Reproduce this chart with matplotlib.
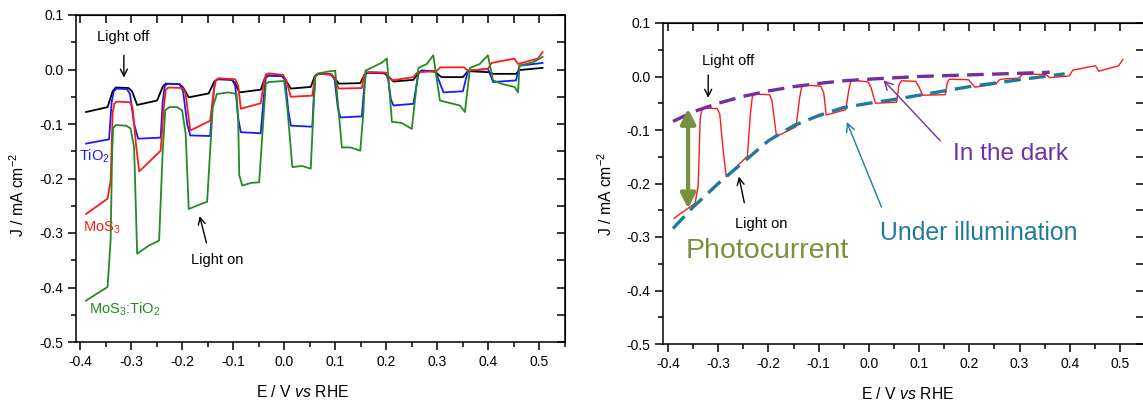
import numpy as np
import matplotlib
matplotlib.use("Agg")
import matplotlib.pyplot as plt
from matplotlib.ticker import FormatStrFormatter, MultipleLocator

plt.rcParams['font.family'] = ['Liberation Sans', 'DejaVu Sans']
plt.rcParams['mathtext.fontset'] = 'custom'
plt.rcParams['mathtext.rm'] = 'Liberation Sans'
plt.rcParams['mathtext.it'] = 'Liberation Sans:italic'
plt.rcParams['axes.unicode_minus'] = False

# ---------------- data ----------------
black_E = [-0.388, -0.346, -0.336, -0.330, -0.305, -0.298, -0.288, -0.249, -0.238, -0.232, -0.205, -0.198,
           -0.187, -0.148, -0.137, -0.130, -0.103, -0.096, -0.088, -0.046, -0.038, -0.032, -0.005, 0.002,
           0.013, 0.052, 0.060, 0.066, 0.090, 0.097, 0.107, 0.149, 0.157, 0.163, 0.196, 0.203, 0.214, 0.253,
           0.263, 0.270, 0.295, 0.308, 0.350, 0.360, 0.402, 0.409, 0.454, 0.461, 0.506]
black_J = [-0.078, -0.069, -0.040, -0.033, -0.034, -0.040, -0.065, -0.057, -0.032, -0.026, -0.027, -0.033,
           -0.051, -0.044, -0.022, -0.018, -0.019, -0.025, -0.042, -0.037, -0.016, -0.011, -0.012, -0.018,
           -0.035, -0.032, -0.012, -0.008, -0.009, -0.014, -0.026, -0.025, -0.010, -0.006, -0.007, -0.012,
           -0.022, -0.019, -0.006, -0.002, -0.004, -0.014, -0.014, -0.003, -0.005, -0.008, -0.008, -0.001, 0.003]

tio2_E = [-0.388, -0.343, -0.338, -0.334, -0.328, -0.308, -0.302, -0.294, -0.286, -0.242, -0.238, -0.234,
          -0.228, -0.205, -0.198, -0.190, -0.184, -0.145, -0.140, -0.136, -0.130, -0.102, -0.096, -0.090,
          -0.085, -0.046, -0.040, -0.036, -0.030, -0.004, 0.002, 0.008, 0.013, 0.055, 0.058, 0.061, 0.067,
          0.093, 0.099, 0.105, 0.110, 0.152, 0.156, 0.160, 0.166, 0.199, 0.204, 0.209, 0.214, 0.253, 0.263,
          0.269, 0.296, 0.303, 0.312, 0.350, 0.360, 0.399, 0.404, 0.409, 0.454, 0.461, 0.506]
tio2_J = [-0.136, -0.128, -0.060, -0.040, -0.035, -0.036, -0.045, -0.100, -0.127, -0.125, -0.060, -0.030,
          -0.026, -0.027, -0.040, -0.100, -0.121, -0.122, -0.060, -0.022, -0.017, -0.018, -0.030, -0.090,
          -0.115, -0.117, -0.050, -0.015, -0.011, -0.012, -0.020, -0.075, -0.103, -0.105, -0.050, -0.012,
          -0.008, -0.009, -0.020, -0.070, -0.088, -0.086, -0.040, -0.007, -0.005, -0.006, -0.020, -0.055,
          -0.066, -0.063, -0.008, -0.002, -0.003, -0.020, -0.042, -0.040, -0.002, 0.001, -0.010, -0.023,
          -0.020, 0.007, 0.012]

mos3_E = [-0.388, -0.346, -0.340, -0.336, -0.333, -0.328, -0.302, -0.297, -0.290, -0.284, -0.242, -0.236,
          -0.232, -0.226, -0.198, -0.193, -0.184, -0.145, -0.138, -0.134, -0.128, -0.096, -0.090, -0.085,
          -0.046, -0.040, -0.036, -0.030, -0.002, 0.004, 0.013, 0.055, 0.060, 0.065, 0.093, 0.099, 0.107,
          0.152, 0.156, 0.160, 0.198, 0.204, 0.211, 0.253, 0.259, 0.263, 0.298, 0.306, 0.352, 0.360, 0.399,
          0.406, 0.451, 0.458, 0.497, 0.506]
mos3_J = [-0.265, -0.237, -0.204, -0.080, -0.063, -0.059, -0.060, -0.070, -0.140, -0.187, -0.149, -0.070,
          -0.037, -0.033, -0.034, -0.045, -0.112, -0.094, -0.040, -0.020, -0.016, -0.018, -0.030, -0.072,
          -0.062, -0.025, -0.009, -0.007, -0.010, -0.020, -0.050, -0.048, -0.015, -0.008, -0.009, -0.018,
          -0.035, -0.034, -0.012, -0.005, -0.006, -0.012, -0.020, -0.014, -0.007, -0.005, -0.003, 0.004,
          0.004, -0.002, 0.001, 0.012, 0.020, 0.010, 0.020, 0.032]

mix_E = [-0.388, -0.346, -0.340, -0.337, -0.335, -0.330, -0.310, -0.301, -0.294, -0.288, -0.265, -0.245,
         -0.238, -0.233, -0.225, -0.210, -0.200, -0.193, -0.187, -0.161, -0.151, -0.140, -0.132, -0.110,
         -0.093, -0.090, -0.088, -0.082, -0.065, -0.049, -0.040, -0.036, -0.030, 0.000, 0.006, 0.016, 0.035,
         0.052, 0.058, 0.061, 0.067, 0.085, 0.100, 0.103, 0.113, 0.130, 0.149, 0.155, 0.159, 0.175, 0.190,
         0.201, 0.211, 0.230, 0.250, 0.263, 0.279, 0.292, 0.305, 0.318, 0.344, 0.354, 0.364, 0.383, 0.399,
         0.409, 0.428, 0.451, 0.458, 0.461, 0.487, 0.506]
mix_J = [-0.424, -0.399, -0.314, -0.150, -0.108, -0.102, -0.103, -0.108, -0.143, -0.338, -0.323, -0.314,
         -0.150, -0.075, -0.069, -0.069, -0.075, -0.118, -0.256, -0.246, -0.243, -0.070, -0.045, -0.042,
         -0.045, -0.100, -0.194, -0.213, -0.208, -0.207, -0.080, -0.026, -0.023, -0.021, -0.069, -0.179,
         -0.177, -0.182, -0.060, -0.011, -0.007, -0.004, -0.002, -0.039, -0.143, -0.143, -0.149, -0.080,
         -0.002, 0.005, 0.012, 0.020, -0.096, -0.098, -0.109, 0.003, 0.010, 0.026, -0.057, -0.060, -0.066,
         -0.078, 0.003, 0.010, 0.026, -0.020, -0.027, -0.032, -0.042, 0.007, 0.013, 0.023]

dark_E = [-0.39, -0.35, -0.30, -0.25, -0.20, -0.15, -0.10, -0.05, 0.0, 0.1, 0.2, 0.3, 0.36]
dark_J = [-0.084, -0.066, -0.050, -0.037, -0.027, -0.019, -0.013, -0.008, -0.005, 0.000, 0.003, 0.006, 0.008]

illum_E = [-0.39, -0.35, -0.30, -0.25, -0.20, -0.15, -0.10, -0.05, 0.0, 0.05, 0.1, 0.2, 0.3, 0.39]
illum_J = [-0.284, -0.244, -0.200, -0.160, -0.120, -0.092, -0.073, -0.058, -0.050, -0.043, -0.035, -0.019,
           -0.006, 0.005]

x_ticks = [-0.4, -0.3, -0.2, -0.1, 0.0, 0.1, 0.2, 0.3, 0.4, 0.5]
y_ticks = [-0.5, -0.4, -0.3, -0.2, -0.1, 0.0, 0.1]

# ---------------- colours ----------------
C_RED = '#ff1a1a'
C_BLUE = '#1a1aff'
C_GREEN = '#228b22'
C_PURPLE = '#7030a0'
C_TEAL = '#1e7b9c'
C_OLIVE = '#76923c'

fig = plt.figure(figsize=(11.43, 4.03), dpi=100)
W, H = 1143.0, 403.0
axL = fig.add_axes([76 / W, (H - 342) / H, 489 / W, 327 / H])
axR = fig.add_axes([663 / W, (H - 344) / H, 480.5 / W, 321 / H])


def style_axes(ax, xlim):
    ax.set_xlim(*xlim)
    ax.set_ylim(-0.5, 0.1)
    ax.set_xticks(x_ticks)
    ax.set_yticks(y_ticks)
    ax.xaxis.set_minor_locator(MultipleLocator(0.05))
    ax.yaxis.set_minor_locator(MultipleLocator(0.05))
    ax.xaxis.set_major_formatter(FormatStrFormatter('%.1f'))
    ax.yaxis.set_major_formatter(FormatStrFormatter('%.1f'))
    ax.tick_params(which='major', direction='out', length=6, width=1.1, labelsize=10, pad=3)
    ax.tick_params(which='minor', direction='out', length=3.5, width=1.1)
    for s in ax.spines.values():
        s.set_linewidth(1.1)
    top = ax.secondary_xaxis('top')
    top.set_xticks(np.round(np.arange(-0.4, 0.501, 0.05), 2))
    top.tick_params(direction='in', length=6, width=1.1, labeltop=False)
    top.set_xticklabels([])
    right = ax.secondary_yaxis('right')
    right.set_yticks(np.round(np.arange(-0.5, 0.101, 0.05), 2))
    right.tick_params(direction='in', length=6, width=1.1, labelright=False)
    right.set_yticklabels([])
    ax.set_xlabel(r'E / V $\it{vs}$ RHE', fontsize=11.3)
    ax.set_ylabel(r'J / mA cm$^{-2}$', fontsize=11.3)


# ---------------- left panel ----------------
style_axes(axL, (-0.4078, 0.550))
axL.plot(black_E, black_J, color='black', lw=1.3)
axL.plot(tio2_E, tio2_J, color=C_BLUE, lw=1.3)
axL.plot(mos3_E, mos3_J, color=C_RED, lw=1.3)
axL.plot(mix_E, mix_J, color=C_GREEN, lw=1.3)
axL.xaxis.set_label_coords(0.464, -0.128)
axL.yaxis.set_label_coords(-0.100, 0.45)

fs = 10.5
axL.text(-0.316, 0.052, 'Light off', fontsize=fs, ha='center', va='baseline')
axL.annotate('', xy=(-0.314, -0.020), xytext=(-0.314, 0.031),
             arrowprops=dict(arrowstyle='->,head_length=0.5,head_width=0.25', color='black', lw=1.0))
axL.text(-0.402, -0.167, r'TiO$_2$', color=C_BLUE, fontsize=fs, ha='left', va='baseline')
axL.text(-0.394, -0.298, r'MoS$_3$', color=C_RED, fontsize=fs, ha='left', va='baseline')
axL.text(-0.382, -0.447, r'MoS$_3$:TiO$_2$', color=C_GREEN, fontsize=fs, ha='left', va='baseline')
axL.text(-0.131, -0.356, 'Light on', fontsize=fs, ha='center', va='baseline')
axL.annotate('', xy=(-0.167, -0.264), xytext=(-0.151, -0.323),
             arrowprops=dict(arrowstyle='->,head_length=0.5,head_width=0.25', color='black', lw=1.0))

# ---------------- right panel ----------------
style_axes(axR, (-0.41, 0.5468))
axR.plot(mos3_E, mos3_J, color=C_RED, lw=1.0)
axR.plot(dark_E, dark_J, color=C_PURPLE, lw=2.4, dashes=(5, 2.5))
axR.plot(illum_E, illum_J, color=C_TEAL, lw=2.4, dashes=(5, 2.5))
axR.xaxis.set_label_coords(0.51, -0.131)
axR.yaxis.set_label_coords(-0.100, 0.467)

axR.text(-0.281, 0.021, 'Light off', fontsize=fs, ha='center', va='baseline')
axR.annotate('', xy=(-0.320, -0.045), xytext=(-0.320, 0.008),
             arrowprops=dict(arrowstyle='->,head_length=0.5,head_width=0.25', color='black', lw=1.0))
axR.text(-0.215, -0.284, 'Light on', fontsize=fs, ha='center', va='baseline')
axR.annotate('', xy=(-0.260, -0.182), xytext=(-0.247, -0.241),
             arrowprops=dict(arrowstyle='->,head_length=0.5,head_width=0.25', color='black', lw=1.0))
axR.annotate('', xy=(-0.360, -0.060), xytext=(-0.360, -0.247),
             arrowprops=dict(arrowstyle='<|-|>,head_length=0.9,head_width=0.45', color=C_OLIVE,
                             lw=3.0, shrinkA=0, shrinkB=0))
axR.text(-0.364, -0.340, 'Photocurrent', color=C_OLIVE, fontsize=20.5, ha='left', va='baseline')
axR.text(0.022, -0.306, 'Under illumination', color=C_TEAL, fontsize=17.8, ha='left', va='baseline')
axR.annotate('', xy=(-0.044, -0.085), xytext=(0.025, -0.244),
             arrowprops=dict(arrowstyle='->,head_length=0.6,head_width=0.3', color=C_TEAL, lw=1.0,
                             shrinkA=0, shrinkB=0))
axR.text(0.168, -0.157, 'In the dark', color=C_PURPLE, fontsize=17.6, ha='left', va='baseline')
axR.annotate('', xy=(0.029, -0.007), xytext=(0.142, -0.120),
             arrowprops=dict(arrowstyle='->,head_length=0.6,head_width=0.3', color=C_PURPLE, lw=1.0,
                             shrinkA=0, shrinkB=0))

fig.savefig('out.png', dpi=100)
